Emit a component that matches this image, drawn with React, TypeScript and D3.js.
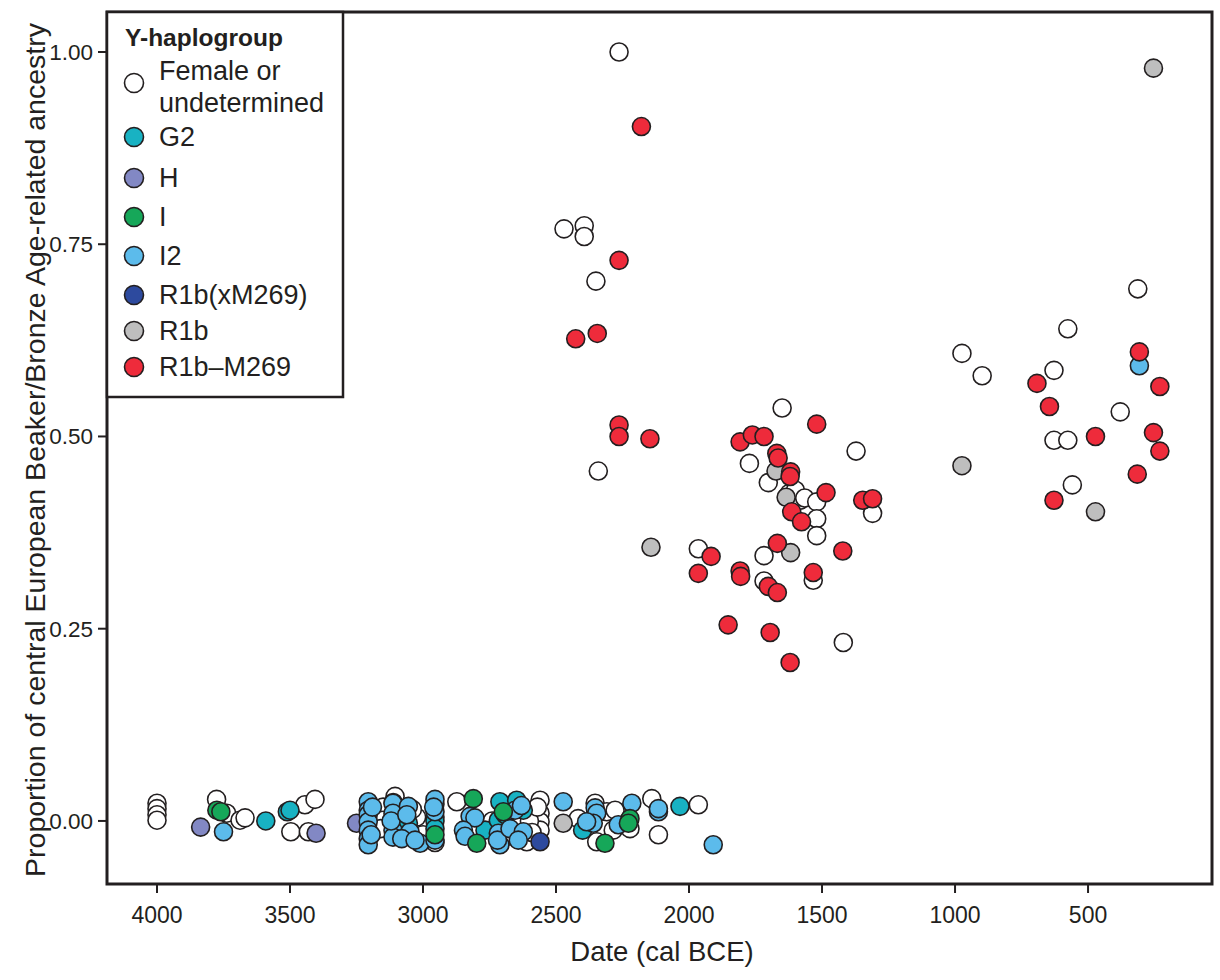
import React from 'react';
import * as d3 from 'd3';

// [date cal BCE, ancestry proportion]
type Pt = [number, number];

const femaleOrUndetermined: Pt[] = [
  [2263, 1.0], [2470, 0.77], [2394, 0.774], [2394, 0.76], [2350, 0.702], [2341, 0.455],
  [1965, 0.354], [1650, 0.537], [1773, 0.465], [1702, 0.44], [1372, 0.481], [1718, 0.345],
  [1623, 0.426], [1583, 0.417], [1600, 0.43], [1565, 0.42], [1520, 0.415], [1520, 0.393],
  [1520, 0.371], [1310, 0.4], [1718, 0.312], [1533, 0.313], [1420, 0.232],
  [313, 0.692], [576, 0.64], [974, 0.608], [898, 0.579], [628, 0.586], [379, 0.532],
  [628, 0.495], [576, 0.495], [559, 0.437],
  [4000, 0.023], [4000, 0.016], [4000, 0.008], [4000, 0.001], [3776, 0.028], [3738, 0.01],
  [3688, 0.001], [3669, 0.004], [3497, -0.014], [3444, 0.021], [3431, -0.014], [3406, 0.028],
  [3174, 0.005], [3150, 0.018], [3150, 0.001], [3160, -0.01], [3105, 0.032], [3024, 0.005],
  [3000, -0.018], [3040, 0.015], [2955, 0.005], [2955, -0.028], [2873, 0.025], [2560, 0.027],
  [2560, 0.01], [2560, -0.001], [2560, -0.012], [2610, -0.027], [2417, 0.003], [2353, 0.023],
  [2309, 0.012], [2278, 0.014], [2285, -0.012], [2347, -0.027], [2222, -0.01], [2140, 0.029],
  [2115, -0.018], [1965, 0.021], [2680, -0.02], [2740, 0.0], [2690, -0.01], [2600, 0.0],
  [2590, -0.015], [2570, 0.018],
];

const g2: Pt[] = [
  [3591, 0.0], [3510, 0.012], [3500, 0.014], [3112, 0.024], [3055, -0.003], [2955, 0.022],
  [2955, 0.0], [2955, -0.01], [2767, -0.012], [2711, 0.025], [2717, 0.001], [2648, 0.027],
  [2623, 0.014], [2690, 0.008], [2400, -0.012], [2034, 0.019],
];

const h: Pt[] = [[3836, -0.008], [3402, -0.016], [3250, -0.003]];

const hgI: Pt[] = [
  [3775, 0.014], [3760, 0.012], [2955, -0.018], [2811, 0.029], [2798, -0.029], [2698, 0.012],
  [2222, 0.003], [2228, -0.003], [2316, -0.029],
];

const i2: Pt[] = [
  [3750, -0.014],
  [3206, 0.025], [3206, 0.014], [3206, 0.008], [3206, -0.001], [3206, -0.012], [3206, -0.023],
  [3206, -0.031], [3190, 0.018], [3195, -0.018],
  [3113, 0.023], [3113, 0.01], [3113, -0.012], [3113, -0.021], [3120, 0.0],
  [3055, 0.019], [3049, -0.014], [3061, 0.008], [3080, -0.023], [3011, -0.029], [3030, -0.025],
  [2955, 0.028], [2955, 0.012], [2955, -0.025], [2960, 0.018],
  [2823, 0.006], [2805, 0.004], [2848, -0.012], [2842, -0.02],
  [2717, -0.016], [2711, -0.031], [2720, -0.025],
  [2654, 0.014], [2673, -0.01], [2623, -0.014], [2642, -0.025], [2630, 0.02],
  [2473, 0.025], [2353, 0.017], [2347, 0.01], [2360, -0.003], [2385, -0.001], [2266, -0.005],
  [2215, 0.023], [2115, 0.012], [2115, 0.016], [1909, -0.031],
  [307, 0.592],
];

const r1bxM269: Pt[] = [[2560, -0.027]];

const r1b: Pt[] = [
  [254, 0.979], [974, 0.462], [472, 0.402], [2143, 0.356], [1673, 0.455], [1635, 0.421],
  [1618, 0.349], [2473, -0.003],
];

const r1bM269: Pt[] = [
  [2179, 0.903], [2263, 0.729], [2426, 0.627], [2345, 0.634], [2263, 0.515], [2263, 0.5],
  [2147, 0.497], [1520, 0.516], [1808, 0.493], [1762, 0.502], [1718, 0.5], [1670, 0.478],
  [1665, 0.472], [1618, 0.454], [1620, 0.448], [1485, 0.427], [1614, 0.402], [1577, 0.389],
  [1347, 0.417], [1310, 0.419], [1668, 0.361], [1422, 0.351], [1917, 0.344], [1965, 0.322],
  [1808, 0.325], [1806, 0.318], [1702, 0.305], [1668, 0.297], [1533, 0.323], [1853, 0.255],
  [1695, 0.245], [1620, 0.206],
  [307, 0.61], [692, 0.569], [230, 0.565], [645, 0.539], [472, 0.5], [254, 0.505],
  [230, 0.481], [315, 0.451], [628, 0.417],
];

const xTicks = [4000, 3500, 3000, 2500, 2000, 1500, 1000, 500];
const yTicks = [0, 0.25, 0.5, 0.75, 1.0];

// legend order
const groups = [
  { label: ['Female or', 'undetermined'], color: '#ffffff', data: femaleOrUndetermined },
  { label: ['G2'], color: '#18b2c3', data: g2 },
  { label: ['H'], color: '#8288c4', data: h },
  { label: ['I'], color: '#16a759', data: hgI },
  { label: ['I2'], color: '#5cbbeb', data: i2 },
  { label: ['R1b(xM269)'], color: '#2d4a9e', data: r1bxM269 },
  { label: ['R1b'], color: '#bebebe', data: r1b },
  { label: ['R1b\u2013M269'], color: '#ee2b3b', data: r1bM269 },
];

// drawing order (back to front)
const drawOrder = [0, 6, 2, 1, 4, 3, 5, 7];

const W = 1220;
const H = 980;
const left = 107, right = 1212, top = 12, bottom = 884;
const font = '"Liberation Sans", Arial, Helvetica, sans-serif';
const ink = '#231f20';

export default function App() {
  const x = d3.scaleLinear().domain([4188, 34]).range([left, right]);
  const y = d3.scaleLinear().domain([-0.082, 1.052]).range([bottom, top]);
  const fmt = d3.format('.2f');
  const r = 9;

  const legendY = [83, 137, 178, 217, 256, 295, 331, 367];

  return (
    <svg width={W} height={H} style={{ position: 'absolute', left: 0, top: 0, background: '#fff' }}
      fontFamily={font}>
      <rect x={0} y={0} width={W} height={H} fill="#fff" />

      {drawOrder.map(gi => (
        <g key={gi}>
          {groups[gi].data.map((d, i) => (
            <circle key={i} cx={x(d[0])} cy={y(d[1])} r={r}
              fill={groups[gi].color} stroke={ink} strokeWidth={1.6} />
          ))}
        </g>
      ))}

      {/* frame */}
      <rect x={left} y={top} width={right - left} height={bottom - top}
        fill="none" stroke={ink} strokeWidth={3} />

      {/* y axis */}
      {yTicks.map(t => (
        <g key={t}>
          <line x1={left - 9} x2={left} y1={y(t)} y2={y(t)} stroke={ink} strokeWidth={2} />
          <text x={left - 14} y={y(t)} dy="0.35em" textAnchor="end" fontSize={22.5} fill={ink}>
            {fmt(t)}
          </text>
        </g>
      ))}
      <text transform={`translate(35,${(top + bottom) / 2 + 2}) rotate(-90)`} textAnchor="middle"
        dy="0.35em" fontSize={28.5} fill={ink}>
        Proportion of central European Beaker/Bronze Age-related ancestry
      </text>

      {/* x axis */}
      {xTicks.map(t => (
        <g key={t}>
          <line x1={x(t)} x2={x(t)} y1={bottom} y2={bottom + 9} stroke={ink} strokeWidth={2} />
          <text x={x(t)} y={915} dy="0.35em" textAnchor="middle" fontSize={23} fill={ink}>
            {t}
          </text>
        </g>
      ))}
      <text x={662} y={951} dy="0.35em" textAnchor="middle" fontSize={27.5} fill={ink}>
        Date (cal BCE)
      </text>

      {/* legend */}
      <rect x={left} y={top} width={236} height={385} fill="#fff" stroke={ink} strokeWidth={2.5} />
      <text x={125} y={37} dy="0.35em" fontSize={24.5} fontWeight="bold" fill={ink}>Y-haplogroup</text>
      {groups.map((g, i) => (
        <g key={i}>
          <circle cx={134} cy={legendY[i]} r={9.5} fill={g.color} stroke={ink} strokeWidth={1.6} />
          {g.label.length === 1 ? (
            <text x={159} y={legendY[i]} dy="0.35em" fontSize={27} fill={ink}>{g.label[0]}</text>
          ) : (
            <text fontSize={27} fill={ink}>
              <tspan x={159} y={legendY[i] - 12} dy="0.35em">{g.label[0]}</tspan>
              <tspan x={159} y={legendY[i] + 20} dy="0.35em">{g.label[1]}</tspan>
            </text>
          )}
        </g>
      ))}
    </svg>
  );
}
